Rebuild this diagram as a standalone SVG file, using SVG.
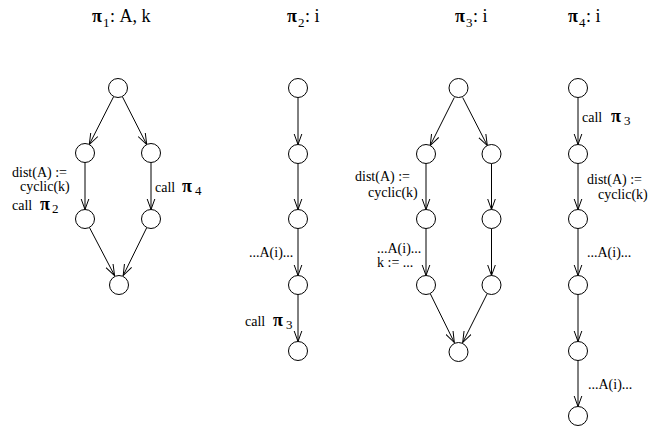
<svg xmlns="http://www.w3.org/2000/svg" width="652" height="428" viewBox="0 0 652 428">
<style>
.n{fill:#fff;stroke:#000;stroke-width:1}
.e{fill:none;stroke:#000;stroke-width:1;marker-end:url(#arr)}
text{font-family:"Liberation Serif","Times New Roman",serif;fill:#000}
.t{font-size:18px}
.l{font-size:14px}
.p{font-size:18px;font-weight:bold}
.s{font-size:13px}
</style>
<defs>
<marker id="arr" markerUnits="userSpaceOnUse" markerWidth="12" markerHeight="10" viewBox="0 0 12 10" refX="11" refY="5" orient="auto">
<path d="M0,1 L11,5 L0,9" fill="none" stroke="#000" stroke-width="1"/>
</marker>
</defs>
<g id="titles">
<text x="92" y="22"><tspan class="p">π</tspan><tspan class="s" x="103" y="27">1</tspan><tspan class="t" x="110" y="22">: A, k</tspan></text>
<text x="287" y="22"><tspan class="p">π</tspan><tspan class="s" x="298" y="27">2</tspan><tspan class="t" x="305" y="22">: i</tspan></text>
<text x="455" y="22"><tspan class="p">π</tspan><tspan class="s" x="466" y="27">3</tspan><tspan class="t" x="473" y="22">: i</tspan></text>
<text x="568" y="22"><tspan class="p">π</tspan><tspan class="s" x="579" y="27">4</tspan><tspan class="t" x="586" y="22">: i</tspan></text>
</g>
<g id="connectors">
<line class="e" x1="113.7" y1="96.5" x2="89.3" y2="144.5"/>
<line class="e" x1="122.3" y1="96.5" x2="146.7" y2="144.5"/>
<line class="e" x1="85" y1="162.5" x2="85" y2="209.5"/>
<line class="e" x1="151" y1="162.5" x2="151" y2="209.5"/>
<line class="e" x1="89.4" y1="227.4" x2="114.6" y2="275.6"/>
<line class="e" x1="146.8" y1="227.5" x2="123.2" y2="275.5"/>
<line class="e" x1="298" y1="97.5" x2="298" y2="144.5"/>
<line class="e" x1="298" y1="163.5" x2="298" y2="209.5"/>
<line class="e" x1="298" y1="228.5" x2="298" y2="275.5"/>
<line class="e" x1="298" y1="294.5" x2="298" y2="341.5"/>
<line class="e" x1="454.3" y1="97.5" x2="430.2" y2="145.5"/>
<line class="e" x1="462.7" y1="97.5" x2="487.3" y2="145.5"/>
<line class="e" x1="426" y1="163.5" x2="426" y2="209.5"/>
<line class="e" x1="491.5" y1="163.5" x2="491.5" y2="209.5"/>
<line class="e" x1="426" y1="228.5" x2="426" y2="275.5"/>
<line class="e" x1="491.5" y1="228.5" x2="491.5" y2="275.5"/>
<line class="e" x1="430.2" y1="293.5" x2="454.3" y2="342.5"/>
<line class="e" x1="487.3" y1="293.5" x2="462.7" y2="342.5"/>
<line class="e" x1="578" y1="97.5" x2="578" y2="144.5"/>
<line class="e" x1="578" y1="163.5" x2="578" y2="209.5"/>
<line class="e" x1="578" y1="228.5" x2="578" y2="275.5"/>
<line class="e" x1="578" y1="294.5" x2="578" y2="341.5"/>
<line class="e" x1="578" y1="360.5" x2="578" y2="406.5"/>
</g>
<g id="g1">
<g id="p1_top"><circle class="n" cx="118" cy="88" r="9.5"/></g>
<g id="p1_l2"><circle class="n" cx="85" cy="153" r="9.5"/></g>
<g id="p1_r2"><circle class="n" cx="151" cy="153" r="9.5"/></g>
<g id="p1_l3"><circle class="n" cx="85" cy="219" r="9.5"/></g>
<g id="p1_r3"><circle class="n" cx="151" cy="219" r="9.5"/></g>
<g id="p1_bot"><circle class="n" cx="119" cy="285" r="9.5"/></g>
</g>
<g id="g2">
<g id="p2_n1"><circle class="n" cx="298" cy="88" r="9.5"/></g>
<g id="p2_n2"><circle class="n" cx="298" cy="154" r="9.5"/></g>
<g id="p2_n3"><circle class="n" cx="298" cy="219" r="9.5"/></g>
<g id="p2_n4"><circle class="n" cx="298" cy="285" r="9.5"/></g>
<g id="p2_n5"><circle class="n" cx="298" cy="351" r="9.5"/></g>
</g>
<g id="g3">
<g id="p3_top"><circle class="n" cx="458.5" cy="88" r="9.5"/></g>
<g id="p3_l2"><circle class="n" cx="426" cy="154" r="9.5"/></g>
<g id="p3_r2"><circle class="n" cx="491.5" cy="154" r="9.5"/></g>
<g id="p3_l3"><circle class="n" cx="426" cy="219" r="9.5"/></g>
<g id="p3_r3"><circle class="n" cx="491.5" cy="219" r="9.5"/></g>
<g id="p3_l4"><circle class="n" cx="426" cy="285" r="9.5"/></g>
<g id="p3_r4"><circle class="n" cx="491.5" cy="285" r="9.5"/></g>
<g id="p3_bot"><circle class="n" cx="458.5" cy="352" r="9.5"/></g>
</g>
<g id="g4">
<g id="p4_n1"><circle class="n" cx="578" cy="88" r="9.5"/></g>
<g id="p4_n2"><circle class="n" cx="578" cy="154" r="9.5"/></g>
<g id="p4_n3"><circle class="n" cx="578" cy="219" r="9.5"/></g>
<g id="p4_n4"><circle class="n" cx="578" cy="285" r="9.5"/></g>
<g id="p4_n5"><circle class="n" cx="578" cy="351" r="9.5"/></g>
<g id="p4_n6"><circle class="n" cx="578" cy="416" r="9.5"/></g>
</g>
<g id="labels">
<text class="l" x="12" y="177">dist(A) :=</text>
<text class="l" x="20" y="191">cyclic(k)</text>
<text x="12" y="210"><tspan class="l">call</tspan><tspan class="p" x="40">π</tspan><tspan class="s" x="52" y="213">2</tspan></text>
<text x="155" y="192"><tspan class="l">call</tspan><tspan class="p" x="182">π</tspan><tspan class="s" x="195" y="195">4</tspan></text>
<text class="l" x="249" y="257">...A(i)...</text>
<text x="245" y="326"><tspan class="l">call</tspan><tspan class="p" x="273">π</tspan><tspan class="s" x="286" y="329">3</tspan></text>
<text class="l" x="355" y="181">dist(A) :=</text>
<text class="l" x="368" y="197">cyclic(k)</text>
<text class="l" x="377" y="253">...A(i)...</text>
<text class="l" x="377" y="267">k := ...</text>
<text x="582" y="122"><tspan class="l">call</tspan><tspan class="p" x="611">π</tspan><tspan class="s" x="624" y="125">3</tspan></text>
<text class="l" x="587" y="184">dist(A) :=</text>
<text class="l" x="598" y="199">cyclic(k)</text>
<text class="l" x="587" y="257">...A(i)...</text>
<text class="l" x="588" y="389">...A(i)...</text>
</g>
</svg>
